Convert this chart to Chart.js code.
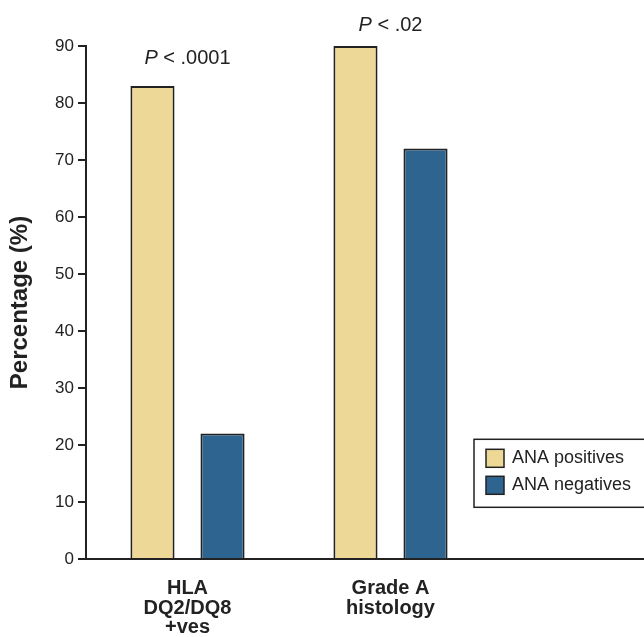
<!DOCTYPE html>
<html lang="en">
<head>
<meta charset="UTF-8" />
<title>ANA positives vs negatives</title>
<script src="https://cdn.jsdelivr.net/npm/chart.js"></script>
<style>
  body { margin: 0; padding: 0; background: #fff; overflow: hidden; }
  #wrap { width: 700px; height: 637px; }
</style>
</head>
<body>
<div id="wrap"><canvas id="chart" width="700" height="637"></canvas></div>
<script>
  const categories = [['HLA', 'DQ2/DQ8', '+ves'], ['Grade A', 'histology'], ''];
  const anaPositives = [83, 90, null];
  const anaNegatives = [22, 72, null];
  const pLabels = ['.0001', '.02'];
  const yTicks = { min: 0, max: 90, step: 10 };

  const FONT = "'Liberation Sans', Arial, sans-serif";
  const yellow = '#eed898';
  const blue = '#2e6590';

  // P values above each group + boxed legend
  const extras = {
    id: 'extras',
    afterDraw(chart) {
      const { ctx, chartArea, scales } = chart;
      const x = scales.x, y = scales.y;
      ctx.save();
      ctx.fillStyle = '#222';
      ctx.textBaseline = 'middle';
      const lift = [27, 21];
      pLabels.forEach((p, i) => {
        const top = Math.max(anaPositives[i], anaNegatives[i]);
        const cx = x.getPixelForValue(i);
        const cy = y.getPixelForValue(top) - lift[i];
        ctx.font = 'italic 20px ' + FONT;
        const w1 = ctx.measureText('P').width;
        ctx.font = '20px ' + FONT;
        const rest = ' < ' + p;
        const w2 = ctx.measureText(rest).width;
        const sx = cx - (w1 + w2) / 2;
        ctx.textAlign = 'left';
        ctx.font = 'italic 20px ' + FONT;
        ctx.fillText('P', sx, cy);
        ctx.font = '20px ' + FONT;
        ctx.fillText(rest, sx + w1, cy);
      });

      // legend box
      const bx = chartArea.left + 388, by = y.getPixelForValue(21);
      ctx.lineWidth = 1.5;
      ctx.strokeStyle = '#222';
      ctx.strokeRect(bx, by, 190, 68);
      chart.data.datasets.forEach((ds, i) => {
        const sy = by + 10 + i * 27;
        ctx.fillStyle = ds.backgroundColor;
        ctx.fillRect(bx + 12, sy, 18, 18);
        ctx.lineWidth = 1.5;
        ctx.strokeRect(bx + 12, sy, 18, 18);
        ctx.fillStyle = '#222';
        ctx.font = '18px ' + FONT;
        ctx.textAlign = 'left';
        ctx.fillText(ds.label, bx + 38, sy + 9);
      });
      ctx.restore();
    }
  };

  new Chart(document.getElementById('chart'), {
    type: 'bar',
    data: {
      labels: categories,
      datasets: [
        { label: 'ANA positives', data: anaPositives, backgroundColor: yellow, borderColor: '#222', borderWidth: 2 },
        { label: 'ANA negatives', data: anaNegatives, backgroundColor: blue, borderColor: '#222', borderWidth: 2 }
      ]
    },
    options: {
      responsive: false,
      animation: false,
      layout: { padding: { top: 46, right: 5, left: 0, bottom: 0 } },
      categoryPercentage: 0.69,
      barPercentage: 0.63,
      plugins: { legend: { display: false }, tooltip: { enabled: false } },
      scales: {
        x: {
          afterFit(s) { s.height = 78; },
          grid: { display: false },
          border: { display: true, color: '#222', width: 2 },
          ticks: { color: '#222', font: { family: FONT, size: 20, weight: 'bold', lineHeight: 0.975 }, padding: 12, maxRotation: 0, autoSkip: false }
        },
        y: {
          min: yTicks.min,
          max: yTicks.max,
          afterFit(s) { s.width = 86; },
          grid: { drawOnChartArea: false, drawTicks: true, tickLength: 8, tickColor: '#222', lineWidth: 2 },
          border: { color: '#222', width: 2 },
          ticks: { stepSize: yTicks.step, color: '#222', padding: 4, font: { family: FONT, size: 17 } },
          title: { display: true, text: 'Percentage (%)', color: '#222', padding: { top: 6, bottom: 0 }, font: { family: FONT, size: 24, weight: 'bold' } }
        }
      }
    },
    plugins: [extras]
  });
</script>
</body>
</html>
